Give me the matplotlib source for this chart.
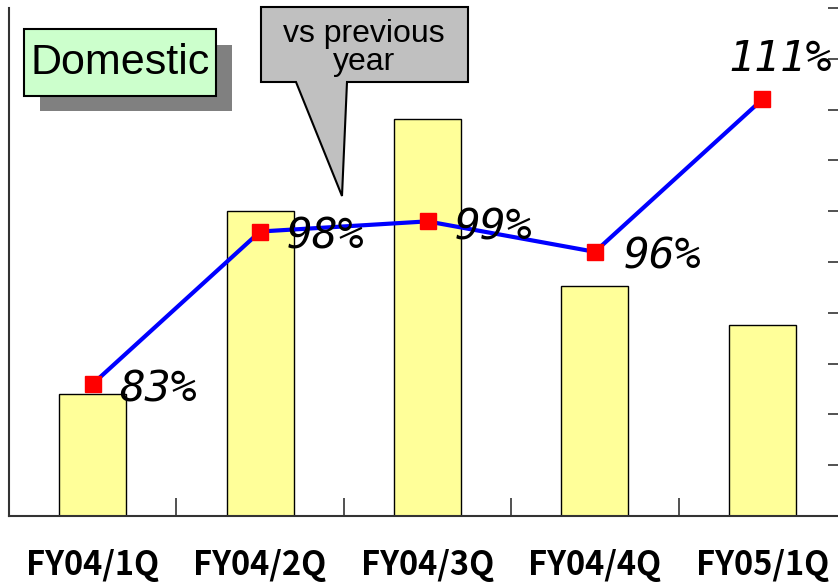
import numpy as np
import matplotlib
matplotlib.use('Agg')
import matplotlib.pyplot as plt
from matplotlib.patches import Rectangle, Polygon

# data
quarters = ['FY04/1Q', 'FY04/2Q', 'FY04/3Q', 'FY04/4Q', 'FY05/1Q']
sales = [2.40, 6.00, 7.81, 4.53, 3.76]          # bar heights (no scale shown)
ratio = [83, 98, 99, 96, 111]                    # % vs previous year
ratio_labels = ['83%', '98%', '99%', '96%', '111%']

W, H = 838, 585
fig = plt.figure(figsize=(W/100, H/100), dpi=100)

def fx(px): return px/W
def fy(py): return 1 - py/H

ax = fig.add_axes([fx(9), fy(516), fx(846) - fx(9), fy(8) - fy(516)])
x = np.arange(len(quarters))
ax.bar(x, sales, width=0.4, color='#FFFF99', edgecolor='black', lw=1, zorder=2)
ax.set_xlim(-0.5, len(quarters) - 0.5)
ax.set_ylim(0, 10)
ax.set_yticks([])
ax.set_xticks(x)
ax.set_xticklabels([])
ax.tick_params(axis='x', which='major', length=0)
ax.set_xticks(np.arange(0.5, len(quarters) - 1, 1), minor=True)
ax.tick_params(axis='x', which='minor', direction='in', length=13, width=1.2, color='#333333')
for s in ['top', 'right']:
    ax.spines[s].set_visible(False)
for s in ['left', 'bottom']:
    ax.spines[s].set_linewidth(1.5)
    ax.spines[s].set_color('#333333')

for xi, q in zip(x, quarters):
    ax.annotate(q, (xi, 0), xytext=(0, -50), textcoords='offset pixels',
                ha='center', va='center', fontsize=23.5, fontweight='bold',
                family=['Noto Sans CJK JP', 'DejaVu Sans'], annotation_clip=False)

ax2 = ax.twinx()
ax2.set_ylim(70, 120)
ax2.set_yticks(np.arange(70, 121, 5))
ax2.set_yticklabels([])
ax2.tick_params(axis='y', direction='in', length=13, width=1.2, color='#333333')
for s in ['top', 'left', 'bottom', 'right']:
    ax2.spines[s].set_visible(False)
ax2.plot(x, ratio, color='#0000FF', lw=3, marker='s', markersize=12,
         markerfacecolor='#FF0000', markeredgecolor='#FF0000', zorder=3)

offsets = [(26, -6), (27, -5), (27, -6), (29, -5), (70, 40)]
aligns = ['left', 'left', 'left', 'left', 'right']
for xi, v, lab, off, ha in zip(x, ratio, ratio_labels, offsets, aligns):
    ax2.annotate(lab, (xi, v), xytext=off, textcoords='offset pixels',
                 ha=ha, va='center', fontsize=31, style='oblique',
                 family='DejaVu Sans Mono', annotation_clip=False)

# "Domestic" box with shadow
fig.patches.append(Rectangle((fx(40), fy(111)), fx(232) - fx(40), fy(45) - fy(111),
                             transform=fig.transFigure, facecolor='#808080',
                             edgecolor='none', zorder=5))
fig.patches.append(Rectangle((fx(24), fy(96)), fx(216) - fx(24), fy(29) - fy(96),
                             transform=fig.transFigure, facecolor='#CCFFCC',
                             edgecolor='black', lw=1.5, zorder=6))
fig.text(fx(120), fy(63), 'Domestic', ha='center', va='center', fontsize=31,
         family='Liberation Sans', zorder=7)

# callout
pts = [(261, 7), (468, 7), (468, 82), (347, 82), (342, 196), (296, 82), (261, 82)]
fig.patches.append(Polygon([(fx(a), fy(b)) for a, b in pts], closed=True,
                           transform=fig.transFigure, facecolor='#C0C0C0',
                           edgecolor='black', lw=1.5, zorder=5))
fig.text(fx(364), fy(48), 'vs previous\nyear', ha='center', va='center',
         fontsize=23, family='Liberation Sans', linespacing=0.92, zorder=7)

fig.savefig('out.png', dpi=100)
